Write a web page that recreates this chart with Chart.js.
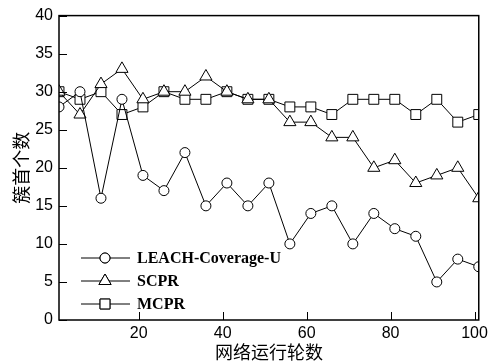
<!DOCTYPE html>
<html>
<head>
<meta charset="utf-8">
<script src="https://cdn.jsdelivr.net/npm/chart.js@4.4.0/dist/chart.umd.min.js"></script>
<style>
  body { margin: 0; background: #fff; }
</style>
</head>
<body>
<canvas id="clusterChart" width="492" height="363"></canvas>
<script>
// rounds (x) and number of cluster heads per protocol
const rounds = [1, 6, 11, 16, 21, 26, 31, 36, 41, 46, 51, 56, 61, 66, 71, 76, 81, 86, 91, 96, 101];
const leachCoverage = [28, 30, 16, 29, 19, 17, 22, 15, 18, 15, 18, 10, 14, 15, 10, 14, 12, 11, 5, 8, 7];
const scpr = [30, 27, 31, 33, 29, 30, 30, 32, 30, 29, 29, 26, 26, 24, 24, 20, 21, 18, 19, 20, 16];
const mcpr = [30, 29, 30, 27, 28, 30, 29, 29, 30, 29, 29, 28, 28, 27, 29, 29, 29, 27, 29, 26, 27];
const xTicks = [20, 40, 60, 80, 100];
const seriesNames = ['LEACH-Coverage-U', 'SCPR', 'MCPR'];

const toPoints = (vals) => vals.map((v, i) => ({ x: rounds[i], y: v }));

function makeSet(label, vals, style, radius) {
    return {
        label: label,
        data: toPoints(vals),
        borderColor: '#000',
        borderWidth: 1,
        pointStyle: style,
        pointRadius: radius,
        pointHoverRadius: radius,
        pointBackgroundColor: '#fff',
        pointBorderColor: '#000',
        pointBorderWidth: 1,
        fill: false,
        tension: 0
    };
}

// inward ticks, frame and line+marker legend
const framePlugin = {
    id: 'framePlugin',
    afterDraw(chart) {
        const ctx = chart.ctx;
        const a = chart.chartArea;
        const xs = chart.scales.x;
        const ys = chart.scales.y;
        ctx.save();
        ctx.strokeStyle = '#000';
        ctx.lineWidth = 1.5;
        ctx.strokeRect(a.left, a.top, a.right - a.left, a.bottom - a.top);
        ctx.lineWidth = 1;
        ctx.beginPath();
        xTicks.forEach(v => {
            const px = Math.round(xs.getPixelForValue(v)) + 0.5;
            ctx.moveTo(px, a.bottom);
            ctx.lineTo(px, a.bottom - 8);
        });
        ys.ticks.forEach(t => {
            const py = Math.round(ys.getPixelForValue(t.value)) + 0.5;
            ctx.moveTo(a.left, py);
            ctx.lineTo(a.left + 8, py);
        });
        ctx.stroke();

        // legend
        const lx = a.left + 22;
        let ly = 258;
        chart.data.datasets.forEach(ds => {
            ctx.strokeStyle = '#000';
            ctx.lineWidth = 1;
            ctx.beginPath();
            ctx.moveTo(lx, ly);
            ctx.lineTo(lx + 49, ly);
            ctx.stroke();
            Chart.helpers.drawPoint(ctx, {
                pointStyle: ds.pointStyle,
                radius: ds.pointRadius,
                borderWidth: 1,
                rotation: 0
            }, lx + 24, ly);
            ctx.fillStyle = '#fff';
            ctx.fill();
            ctx.stroke();
            ctx.fillStyle = '#000';
            ctx.font = 'bold 16px "Liberation Serif", "Times New Roman", serif';
            ctx.textBaseline = 'middle';
            ctx.textAlign = 'left';
            ctx.fillText(ds.label, lx + 56, ly + 1);
            ly += 23;
        });
        ctx.restore();
    }
};

const ctx = document.getElementById('clusterChart').getContext('2d');
const chart = new Chart(ctx, {
    type: 'line',
    data: {
        datasets: [
            makeSet(seriesNames[0], leachCoverage, 'circle', 5),
            makeSet(seriesNames[1], scpr, 'triangle', 7),
            makeSet(seriesNames[2], mcpr, 'rect', 7)
        ]
    },
    options: {
        responsive: false,
        animation: false,
        layout: {
            padding: { top: 12, right: 9, left: 0, bottom: 0 }
        },
        plugins: {
            legend: { display: false },
            tooltip: { enabled: false }
        },
        scales: {
            x: {
                type: 'linear',
                min: 1,
                max: 101,
                afterBuildTicks: (scale) => {
                    scale.ticks = xTicks.map(v => ({ value: v }));
                },
                afterFit: (scale) => { scale.height = 43; },
                grid: { display: false, drawTicks: false },
                border: { display: false },
                ticks: {
                    color: '#000',
                    padding: 4,
                    maxRotation: 0,
                    font: { family: '"Liberation Sans", Arial, sans-serif', size: 16 }
                },
                title: {
                    display: true,
                    text: '网络运行轮数',
                    color: '#000',
                    padding: { top: 0, bottom: 0 },
                    font: { family: '"Noto Sans CJK SC", sans-serif', size: 18 }
                }
            },
            y: {
                min: 0,
                max: 40,
                afterFit: (scale) => { scale.width = 59; },
                grid: { display: false, drawTicks: false },
                border: { display: false },
                ticks: {
                    stepSize: 5,
                    color: '#000',
                    padding: 6,
                    font: { family: '"Liberation Sans", Arial, sans-serif', size: 16 }
                },
                title: {
                    display: true,
                    text: '簇首个数',
                    color: '#000',
                    padding: { top: 10, bottom: 0 },
                    font: { family: '"Noto Sans CJK SC", sans-serif', size: 18 }
                }
            }
        }
    },
    plugins: [framePlugin]
});
</script>
</body>
</html>
